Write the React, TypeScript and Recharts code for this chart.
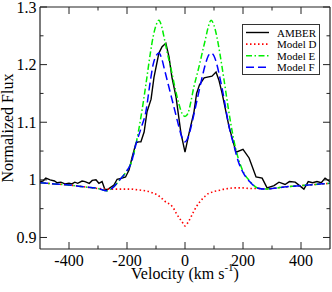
import React from "react";
import { LineChart, Line, XAxis, YAxis, Legend } from "recharts";

// ---- data ----
const amberV = [-500,-490,-480,-465,-450,-441,-428,-414,-400,-390,-380,-370,-355,-345,-330,-320,-307,-297,-286,-276,-265,-245,-234,-217,-205,-193,-183,-169,-160,-152,-141,-131,-117,-107,-90,-79,-66,-55,-45,-31,-14,0,14,31,40,50,66,93,107,117,128,152,176,200,221,245,266,283,307,324,345,360,380,395,410,425,440,455,470,483,500];
const amberFlux = [0.997,0.998,1.003,1.0,0.998,0.995,0.996,0.993,0.994,0.993,0.996,0.994,0.998,0.997,0.994,0.999,1.0,0.994,0.997,0.983,0.984,0.991,1.001,1.003,1.005,1.017,1.038,1.064,1.066,1.066,1.083,1.118,1.14,1.178,1.22,1.231,1.237,1.213,1.178,1.144,1.081,1.048,1.081,1.118,1.15,1.165,1.177,1.18,1.187,1.173,1.15,1.092,1.048,1.053,1.038,1.005,1.003,0.986,0.99,0.996,0.992,0.997,0.996,0.99,0.984,0.997,0.995,0.997,0.995,1.003,0.997];

const modelV = [-500,-450,-400,-350,-300,-270,-250,-225,-200,-185,-170,-150,-135,-120,-110,-100,-90,-80,-70,-60,-50,-40,-30,-20,-10,0,10,20,30,40,50,60,70,80,90,100,110,120,135,150,170,185,200,225,250,275,300,350,400,450,500];
const modelDFlux = [0.995,0.993,0.991,0.988,0.985,0.984,0.984,0.984,0.984,0.984,0.983,0.982,0.981,0.979,0.977,0.975,0.972,0.968,0.963,0.96,0.957,0.951,0.942,0.934,0.927,0.92,0.926,0.935,0.945,0.954,0.961,0.967,0.972,0.976,0.978,0.98,0.981,0.982,0.984,0.985,0.986,0.986,0.986,0.985,0.985,0.984,0.985,0.988,0.99,0.992,0.994];
const modelEFlux = [0.995,0.993,0.991,0.988,0.985,0.981,0.986,1.0,1.016,1.03,1.06,1.115,1.165,1.218,1.248,1.268,1.277,1.265,1.242,1.218,1.197,1.173,1.15,1.13,1.115,1.11,1.115,1.135,1.16,1.18,1.2,1.222,1.243,1.265,1.277,1.268,1.248,1.22,1.172,1.122,1.065,1.035,1.015,0.997,0.986,0.984,0.985,0.988,0.99,0.992,0.994];
const modelFFlux = [0.995,0.993,0.991,0.988,0.985,0.981,0.986,1.0,1.016,1.03,1.06,1.092,1.118,1.17,1.2,1.215,1.22,1.21,1.19,1.17,1.15,1.13,1.11,1.09,1.073,1.066,1.073,1.09,1.112,1.135,1.158,1.18,1.2,1.215,1.22,1.215,1.2,1.178,1.14,1.097,1.057,1.03,1.013,0.996,0.986,0.984,0.985,0.988,0.99,0.992,0.994];

const seriesNames = ["AMBER", "Model D", "Model E", "Model F"];

const xTicks = [-400,-300,-200,-100,0,100,200,300,400];
const xMajorTicks = [-400,-200,0,200,400];
const xTickLabels = ["-400","-200","0","200","400"];
const yTicks = [0.9,0.95,1,1.05,1.1,1.15,1.2,1.25,1.3];
const yMajorTicks = [0.9,1,1.1,1.2,1.3];
const yTickLabels = ["0.9","1","1.1","1.2","1.3"];

// ---- styles ----
const FONT = "Liberation Serif";
const AXIS = "#222";
const styles = [
  { stroke: "#000000", dash: undefined as string | undefined, width: 1.4 },
  { stroke: "#ff0000", dash: "1.5 2.5", width: 1.6 },
  { stroke: "#00ee00", dash: "6 2.5 1.5 2.5", width: 1.5 },
  { stroke: "#0000ff", dash: "8 4", width: 1.5 },
];
const textStyle = { fontFamily: FONT };

const amberData = amberV.map((v, i) => ({ v, f: amberFlux[i] }));
const dData = modelV.map((v, i) => ({ v, f: modelDFlux[i] }));
const eData = modelV.map((v, i) => ({ v, f: modelEFlux[i] }));
const fData = modelV.map((v, i) => ({ v, f: modelFFlux[i] }));

const MAJOR = 7;
const MINOR = 3.5;

const isMajor = (arr: number[], v: number) => arr.some((m) => Math.abs(m - v) < 1e-9);
const labelOf = (arr: number[], labels: string[], v: number) => {
  const i = arr.findIndex((m) => Math.abs(m - v) < 1e-9);
  return i >= 0 ? labels[i] : "";
};

const BottomTick = (p: any) => {
  const { x, y, payload } = p;
  const v = payload.value;
  const maj = isMajor(xMajorTicks, v);
  return (
    <g>
      <line x1={x} x2={x} y1={y} y2={y - (maj ? MAJOR : MINOR)} stroke={AXIS} strokeWidth={1} />
      {maj && (
        <text x={x} y={y + 17} textAnchor="middle" style={textStyle} fontSize={16} fill="#000">
          {labelOf(xMajorTicks, xTickLabels, v)}
        </text>
      )}
    </g>
  );
};

const TopTick = (p: any) => {
  const { x, y, payload } = p;
  const maj = isMajor(xMajorTicks, payload.value);
  return <line x1={x} x2={x} y1={y} y2={y + (maj ? MAJOR : MINOR)} stroke={AXIS} strokeWidth={1} />;
};

const LeftTick = (p: any) => {
  const { x, y, payload } = p;
  const v = payload.value;
  const maj = isMajor(yMajorTicks, v);
  return (
    <g>
      <line x1={x} x2={x + (maj ? MAJOR : MINOR)} y1={y} y2={y} stroke={AXIS} strokeWidth={1} />
      {maj && (
        <text x={x - 3.5} y={y + 5.5} textAnchor="end" style={textStyle} fontSize={16} fill="#000">
          {labelOf(yMajorTicks, yTickLabels, v)}
        </text>
      )}
    </g>
  );
};

const RightTick = (p: any) => {
  const { x, y, payload } = p;
  const maj = isMajor(yMajorTicks, payload.value);
  return <line x1={x} x2={x - (maj ? MAJOR : MINOR)} y1={y} y2={y} stroke={AXIS} strokeWidth={1} />;
};

const XTitle = () => (
  <text x={185} y={279} textAnchor="middle" style={textStyle} fontSize={16} fill="#000">
    Velocity (km s
    <tspan fontSize={11} dy={-8}>-1</tspan>
    <tspan dy={8}>)</tspan>
  </text>
);

const YTitle = () => (
  <text x={13} y={128} textAnchor="middle" style={textStyle} fontSize={16} fill="#000" transform="rotate(-90, 13, 128)">
    Normalized Flux
  </text>
);

const renderLegend = () => (
  <svg width={78} height={51} style={{ display: "block" }}>
    <rect x={0.5} y={0.5} width={77} height={50} fill="#fff" stroke="#333" strokeWidth={1} />
    {seriesNames.map((name, i) => {
      const ly = 8.5 + i * 11.6;
      return (
        <g key={name}>
          <line x1={4} x2={27} y1={ly} y2={ly} stroke={styles[i].stroke} strokeWidth={styles[i].width} strokeDasharray={styles[i].dash} />
          <text x={35} y={ly + 4} style={textStyle} fontSize={11} fill="#000">{name}</text>
        </g>
      );
    })}
  </svg>
);

export default function App() {
  return (
    <div style={{ position: "absolute", left: 0, top: 0, fontFamily: FONT }}>
      <LineChart width={332} height={292} margin={{ top: 0, right: 0, bottom: 0, left: 0 }}>
        <XAxis
          dataKey="v"
          type="number"
          domain={[-500, 500]}
          allowDataOverflow
          ticks={xTicks}
          interval={0}
          height={43}
          tickSize={0}
          tickMargin={0}
          tickLine={false}
          axisLine={{ stroke: AXIS, strokeWidth: 1.2 }}
          tick={BottomTick}
          label={<XTitle />}
        />
        <XAxis
          xAxisId="top"
          orientation="top"
          dataKey="v"
          type="number"
          domain={[-500, 500]}
          allowDataOverflow
          ticks={xTicks}
          interval={0}
          height={7}
          tickSize={0}
          tickMargin={0}
          tickLine={false}
          axisLine={{ stroke: AXIS, strokeWidth: 1.2 }}
          tick={TopTick}
        />
        <YAxis
          type="number"
          domain={[0.88, 1.3]}
          allowDataOverflow
          ticks={yTicks}
          interval={0}
          width={40}
          tickSize={0}
          tickMargin={0}
          tickLine={false}
          axisLine={{ stroke: AXIS, strokeWidth: 1.2 }}
          tick={LeftTick}
          label={<YTitle />}
        />
        <YAxis
          yAxisId="right"
          orientation="right"
          type="number"
          domain={[0.88, 1.3]}
          allowDataOverflow
          ticks={yTicks}
          interval={0}
          width={2}
          tickSize={0}
          tickMargin={0}
          tickLine={false}
          axisLine={{ stroke: AXIS, strokeWidth: 1.2 }}
          tick={RightTick}
        />
        <Line data={amberData} dataKey="f" name={seriesNames[0]} type="linear" stroke={styles[0].stroke} strokeWidth={styles[0].width} dot={false} activeDot={false} isAnimationActive={false} />
        <Line data={dData} dataKey="f" name={seriesNames[1]} type="monotone" stroke={styles[1].stroke} strokeWidth={styles[1].width} strokeDasharray={styles[1].dash} dot={false} activeDot={false} isAnimationActive={false} />
        <Line data={eData} dataKey="f" name={seriesNames[2]} type="monotone" stroke={styles[2].stroke} strokeWidth={styles[2].width} strokeDasharray={styles[2].dash} dot={false} activeDot={false} isAnimationActive={false} />
        <Line data={fData} dataKey="f" name={seriesNames[3]} type="monotone" stroke={styles[3].stroke} strokeWidth={styles[3].width} strokeDasharray={styles[3].dash} dot={false} activeDot={false} isAnimationActive={false} />
        <Legend
          layout="horizontal"
          verticalAlign="middle"
          align="center"
          content={renderLegend}
          wrapperStyle={{ left: 242, top: 24, width: 78, height: 51 }}
        />
      </LineChart>
    </div>
  );
}
